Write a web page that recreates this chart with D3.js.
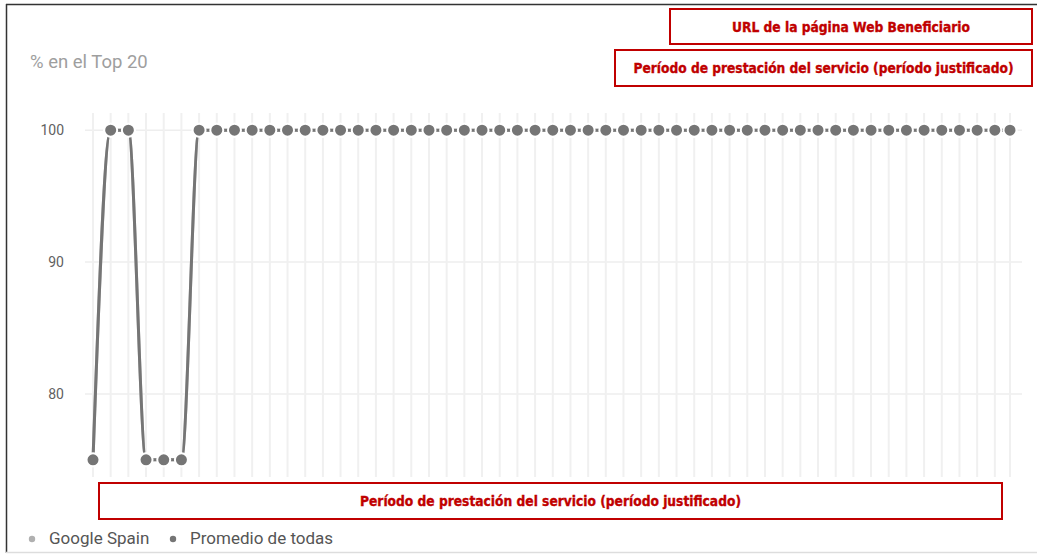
<!DOCTYPE html>
<html>
<head>
<meta charset="utf-8">
<script src="https://cdn.jsdelivr.net/npm/d3@7/dist/d3.min.js"></script>
<style>
  html, body { margin: 0; padding: 0; background: #fff; }
  svg { display: block; }
</style>
</head>
<body>
<svg id="chart" width="1037" height="554"></svg>
<script>
// Weekly observation dates (last one is a partial week)
const dates = [
  "2019-01-07","2019-01-14","2019-01-21","2019-01-28","2019-02-04","2019-02-11","2019-02-18",
  "2019-02-25","2019-03-04","2019-03-11","2019-03-18","2019-03-25","2019-04-01","2019-04-08",
  "2019-04-15","2019-04-22","2019-04-29","2019-05-06","2019-05-13","2019-05-20","2019-05-27",
  "2019-06-03","2019-06-10","2019-06-17","2019-06-24","2019-07-01","2019-07-08","2019-07-15",
  "2019-07-22","2019-07-29","2019-08-05","2019-08-12","2019-08-19","2019-08-26","2019-09-02",
  "2019-09-09","2019-09-16","2019-09-23","2019-09-30","2019-10-07","2019-10-14","2019-10-21",
  "2019-10-28","2019-11-04","2019-11-11","2019-11-18","2019-11-25","2019-12-02","2019-12-09",
  "2019-12-16","2019-12-23","2019-12-30","2020-01-05"
];

// % of keywords in the Top 20
const googleSpain = [
  75,100,100,75,75,75,100,100,100,100,100,100,100,100,100,100,100,100,100,100,100,100,100,100,
  100,100,100,100,100,100,100,100,100,100,100,100,100,100,100,100,100,100,100,100,100,100,100,
  100,100,100,100,100,100
];
const promedioTodas = [
  75,100,100,75,75,75,100,100,100,100,100,100,100,100,100,100,100,100,100,100,100,100,100,100,
  100,100,100,100,100,100,100,100,100,100,100,100,100,100,100,100,100,100,100,100,100,100,100,
  100,100,100,100,100,100
];

const yTicks = [80, 90, 100];
const seriesNames = ["Google Spain", "Promedio de todas"];

const svg = d3.select("#chart");
const parse = d3.timeParse("%Y-%m-%d");
const xDates = dates.map(parse);

const x = d3.scaleTime()
  .domain(d3.extent(xDates))
  .range([93, 1010]);

const y = d3.scaleLinear()
  .domain([73.7, 101.3])
  .range([477, 113]);

// Frame around the panel
svg.append("line").attr("x1", 6).attr("x2", 1037).attr("y1", 4.5).attr("y2", 4.5)
  .attr("stroke", "#333").attr("stroke-width", 1.5);
svg.append("line").attr("x1", 6.5).attr("x2", 6.5).attr("y1", 4).attr("y2", 553)
  .attr("stroke", "#333").attr("stroke-width", 1.5);
svg.append("line").attr("x1", 6).attr("x2", 1037).attr("y1", 552.5).attr("y2", 552.5)
  .attr("stroke", "#ddd").attr("stroke-width", 1.5);

// Title
svg.append("text")
  .attr("x", 30).attr("y", 68)
  .attr("font-family", "Roboto, sans-serif")
  .attr("font-size", 18.5)
  .attr("fill", "#9e9e9e")
  .text("% en el Top 20");

// Horizontal grid
svg.append("g")
  .selectAll("line")
  .data(yTicks)
  .join("line")
  .attr("x1", 85).attr("x2", 1022)
  .attr("y1", d => y(d)).attr("y2", d => y(d))
  .attr("stroke", "#eeeeee").attr("stroke-width", 1.5);

// Vertical grid, one per date
svg.append("g")
  .selectAll("line")
  .data(xDates)
  .join("line")
  .attr("x1", d => x(d)).attr("x2", d => x(d))
  .attr("y1", 113).attr("y2", 477)
  .attr("stroke", "#f0f0f0").attr("stroke-width", 2);

// Y axis labels
const yAxis = d3.axisLeft(y).tickValues(yTicks).tickSize(0).tickPadding(0);
const gy = svg.append("g").attr("transform", "translate(64,0)").call(yAxis);
gy.select(".domain").remove();
gy.selectAll("text")
  .attr("font-family", "Roboto, sans-serif")
  .attr("font-size", 14)
  .attr("fill", "#616161");

// Series
const line = d3.line()
  .x((d, i) => x(xDates[i]))
  .y(d => y(d))
  .curve(d3.curveMonotoneX);

const series = [
  { name: seriesNames[0], values: googleSpain, color: "#bdbdbd" },
  { name: seriesNames[1], values: promedioTodas, color: "#757575" }
];

series.forEach(s => {
  const g = svg.append("g");
  g.append("path")
    .datum(s.values)
    .attr("fill", "none")
    .attr("stroke", s.color)
    .attr("stroke-width", 3)
    .attr("d", line);
  g.selectAll("circle")
    .data(s.values)
    .join("circle")
    .attr("cx", (d, i) => x(xDates[i]))
    .attr("cy", d => y(d))
    .attr("r", 6.5)
    .attr("fill", s.color)
    .attr("stroke", "#fff")
    .attr("stroke-width", 2);
});

// Legend
const legend = svg.append("g").attr("font-family", "Roboto, sans-serif").attr("font-size", 17);
const legendPos = [{ cx: 32, tx: 49, color: "#b0b0b0" }, { cx: 173, tx: 190, color: "#757575" }];
legendPos.forEach((p, i) => {
  legend.append("circle").attr("cx", p.cx).attr("cy", 539).attr("r", 3.2).attr("fill", p.color);
  legend.append("text").attr("x", p.tx).attr("y", 544).attr("fill", "#555").text(seriesNames[i]);
});

// Annotation boxes
const boxes = [
  { x: 670, y: 9, w: 362, h: 35, text: "URL de la página Web Beneficiario", tw: 238 },
  { x: 615, y: 50, w: 417, h: 36, text: "Período de prestación del servicio (período justificado)", tw: 380 },
  { x: 99, y: 483, w: 903, h: 36, text: "Período de prestación del servicio (período justificado)", tw: 381 }
];
const gb = svg.append("g");
boxes.forEach(b => {
  gb.append("rect")
    .attr("x", b.x).attr("y", b.y).attr("width", b.w).attr("height", b.h)
    .attr("fill", "#fff").attr("stroke", "#c00000").attr("stroke-width", 2);
  gb.append("text")
    .attr("x", b.x + b.w / 2).attr("y", b.y + b.h / 2 + 5)
    .attr("text-anchor", "middle")
    .attr("font-family", "'DejaVu Sans Condensed', 'DejaVu Sans', sans-serif")
    .attr("font-weight", "bold")
    .attr("font-size", 14)
    .attr("fill", "#c00000")
    .attr("stroke", "#c00000")
    .attr("stroke-width", 0.35)
    .attr("textLength", b.tw)
    .attr("lengthAdjust", "spacingAndGlyphs")
    .text(b.text);
});
</script>
</body>
</html>
